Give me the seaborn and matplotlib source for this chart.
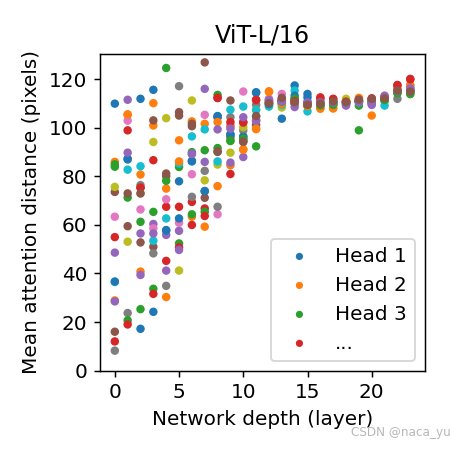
import matplotlib
matplotlib.use("Agg")
import matplotlib.pyplot as plt
import seaborn as sns

# mean attention distance per head, one value per layer (0..23)
layers = list(range(24))

head01 = [110, 87, 112, 115.7, 57.9, 78, 86.2, 73.9, 104.9, 97.2, 96.5, 114.7, 109.5, 103.8, 117.5, 114, 110, 110, 110.5, 111, 111, 112, 115, 115.5]
head02 = [86, 105.4, 80.8, 110.2, 75, 94.9, 102.7, 101.7, 76, 84.6, 91.2, 99.5, 115.1, 110.5, 111, 109, 107.9, 108, 111, 112.4, 105.1, 112, 116, 117.7]
head03 = [85, 71.3, 61.3, 65.4, 124.7, 83.9, 90, 90.8, 113.6, 94.6, 95, 92.4, 111.3, 110, 112.2, 110, 109.5, 109.5, 110, 109.2, 110.5, 111.5, 114.5, 114]
head04 = [55, 99, 75.3, 86.7, 67.5, 67.5, 69.5, 66.8, 112.4, 81, 102.4, 111.6, 110.5, 111, 111.5, 110, 112.6, 112, 111, 111.2, 112.2, 112.5, 117.7, 120.2]
head05 = [48.6, 111.6, 56.5, 60.4, 55.9, 57.6, 89.4, 86, 104.2, 85.7, 88, 103.1, 111.7, 111.5, 108.6, 110.9, 110.9, 110, 109.2, 110.6, 109.5, 113.3, 115.2, 116.3]
head06 = [73.6, 73, 52.8, 51, 80.1, 105.1, 100.7, 71.2, 90.1, 96.2, 94.2, 101.3, 110, 112, 110.6, 109.5, 110, 110.9, 110.6, 111.7, 111.5, 112, 115, 115]
head07 = [63.4, 103, 66.4, 58.6, 70.6, 60.9, 80.9, 105.4, 64.4, 101, 115, 103, 112, 114, 111, 110, 110.5, 110.5, 110.5, 111, 111, 112, 115, 116]
head08 = [8.2, 23.7, 76.4, 48.3, 34.9, 117.2, 71.6, 82.3, 67.5, 104.4, 99, 109.5, 110, 110.5, 110, 110, 110, 110.5, 111, 111, 111, 111, 112, 115]
head09 = [75.7, 53.1, 73, 94.2, 104, 41.2, 111.3, 78.4, 84.9, 89.8, 100.3, 107.4, 109, 108.4, 111, 110, 110, 110.5, 112, 111, 111, 112, 115, 115.5]
head10 = [36.5, 82.8, 84.2, 53.5, 62.7, 85.3, 96.5, 99.4, 86.2, 107.5, 108.8, 107.4, 108.8, 109.5, 115.4, 106.8, 109, 110, 110, 110.5, 110.5, 109.2, 115, 115]
head11 = [36.7, 87.3, 17.2, 24.2, 57.7, 62.7, 86.4, 74, 104.7, 97.4, 96.3, 114.5, 109.8, 111, 113.3, 112.6, 110, 110.5, 110.5, 111, 111, 112, 115, 115.5]
head12 = [28.9, 105.6, 40.8, 101, 30.3, 86.2, 63.4, 59.3, 102.4, 100.6, 91, 99.7, 114.8, 110, 111, 109, 108.2, 108.2, 110.8, 112, 111.5, 112, 116, 117.5]
head13 = [84, 20.7, 25.3, 33.7, 78.2, 52.4, 64.4, 65.4, 91.7, 94.8, 95.5, 104.7, 110.5, 110.8, 112, 109.5, 109.3, 109.5, 110, 99, 110.5, 111.5, 114.3, 114]
head14 = [12, 19, 75.4, 31.6, 45.2, 50.8, 60, 63.7, 112.3, 102.4, 102.2, 111.5, 110.8, 111.2, 111, 110.2, 112, 111.8, 110.8, 111, 112, 112.5, 117.5, 120]
head15 = [28.5, 89.8, 39.4, 56.5, 41.2, 49.7, 89.2, 116.1, 99.4, 99.7, 104.4, 103, 111.5, 111, 110, 110.5, 110.5, 110.5, 109.5, 110.6, 109.8, 113, 115.2, 116.3]
head16 = [16, 59.5, 73, 103.1, 81.2, 106.5, 101.7, 127, 90.3, 111.3, 94.4, 104.9, 110.2, 112.4, 110.6, 109.5, 110, 110.9, 110.6, 111.7, 112, 112.2, 115.4, 115]

heads = [head01, head02, head03, head04, head05, head06, head07, head08,
         head09, head10, head11, head12, head13, head14, head15, head16]
legend_names = ["Head 1", "Head 2", "Head 3", "..."]

DPI = 133
plt.rcParams["font.size"] = 10.8
fig, ax = plt.subplots(figsize=(461 / DPI, 453 / DPI), dpi=DPI)
fig.subplots_adjust(left=0.217, right=0.922, top=0.881, bottom=0.182)

palette = sns.color_palette("tab10")
for i, vals in enumerate(heads):
    label = legend_names[i] if i < len(legend_names) else None
    sns.scatterplot(x=layers, y=vals, color=palette[i % 10], s=21,
                    linewidth=0, edgecolor="none", label=label, ax=ax)

ax.set_ylim(0, 130.5)
ax.set_yticks([0, 20, 40, 60, 80, 100, 120])
ax.set_xticks([0, 5, 10, 15, 20])
ax.set_title("ViT-L/16")
ax.set_xlabel("Network depth (layer)")
ax.set_ylabel("Mean attention distance (pixels)")
leg = ax.legend(loc="lower right", markerscale=0.85)

fig.text(0.978, 0.03, "CSDN @naca_yu", ha="right", va="bottom",
         fontsize=6.5, color="0.72")

fig.savefig("out.png", dpi=DPI)
